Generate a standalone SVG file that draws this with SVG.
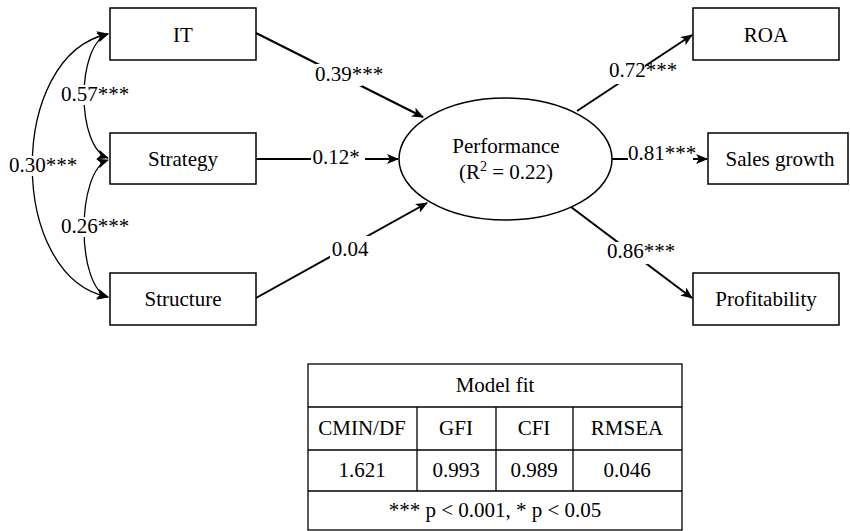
<svg xmlns="http://www.w3.org/2000/svg" width="850" height="531" viewBox="0 0 850 531" font-family="Liberation Serif, Tinos, Times New Roman, DejaVu Serif, serif">
<defs>
<marker id="ah" viewBox="0 0 12 10" refX="11" refY="5" markerWidth="12" markerHeight="10" markerUnits="userSpaceOnUse" orient="auto-start-reverse">
<path d="M0,0 L12,5 L0,10 L3,5 Z" fill="#000"/>
</marker>
<style>
text{font-family:'Liberation Serif',Tinos,'Times New Roman','DejaVu Serif',serif;font-size:21px;fill:#000;text-anchor:middle}
.box{fill:#fff;stroke:#000;stroke-width:1.5}
.p{fill:none;stroke:#000;stroke-width:2}
.c{fill:none;stroke:#000;stroke-width:1.3}
.bg{fill:#fff}
.t{fill:none;stroke:#000;stroke-width:1.3}
</style>
</defs>
<g id="connectors">
<path class="c" d="M108,34 C76,45 76,147 108,158" marker-start="url(#ah)" marker-end="url(#ah)"/>
<path class="c" d="M108,160 C76,171 76,287 108,297" marker-start="url(#ah)" marker-end="url(#ah)"/>
<path class="c" d="M108,34 C7,55 7,277 108,297" marker-start="url(#ah)" marker-end="url(#ah)"/>
<line class="p" x1="256" y1="33" x2="423" y2="117" marker-end="url(#ah)"/>
<line class="p" x1="256" y1="159" x2="398" y2="159" marker-end="url(#ah)"/>
<line class="p" x1="256" y1="298" x2="427" y2="203" marker-end="url(#ah)"/>
<line class="p" x1="577" y1="111" x2="692" y2="35" marker-end="url(#ah)"/>
<line class="p" x1="612" y1="159" x2="707" y2="159" marker-end="url(#ah)"/>
<line class="p" x1="571" y1="207" x2="692" y2="298" marker-end="url(#ah)"/>
<rect class="bg" x="316" y="64" width="46" height="22"/>
<text x="349" y="81">0.39***</text>
<rect class="bg" x="311" y="148" width="54" height="22"/>
<text x="336" y="164">0.12*</text>
<rect class="bg" x="330" y="236" width="40" height="24"/>
<text x="350" y="256">0.04</text>
<rect class="bg" x="61" y="85" width="30" height="20"/>
<text x="95" y="101">0.57***</text>
<rect class="bg" x="8" y="156" width="30" height="20"/>
<text x="43" y="172">0.30***</text>
<rect class="bg" x="61" y="217" width="30" height="20"/>
<text x="95" y="233">0.26***</text>
<rect class="bg" x="609" y="60" width="36" height="24"/>
<text x="643" y="77">0.72***</text>
<rect class="bg" x="628" y="146" width="65" height="20"/>
<text x="662" y="160">0.81***</text>
<rect class="bg" x="607" y="242" width="60" height="22"/>
<text x="641" y="258">0.86***</text>
</g>
<g id="IT"><rect class="box" x="110" y="8" width="146" height="52"/><text x="183" y="42">IT</text></g>
<g id="Strategy"><rect class="box" x="110" y="133" width="146" height="51"/><text x="183" y="166">Strategy</text></g>
<g id="Structure"><rect class="box" x="110" y="273" width="146" height="52"/><text x="183" y="306">Structure</text></g>
<g id="Performance"><ellipse cx="505.5" cy="159" rx="106.5" ry="61" fill="#fff" stroke="#000" stroke-width="1.5"/><text x="506" y="153">Performance</text><text x="506" y="179">(R<tspan dy="-8" font-size="14">2</tspan><tspan dy="8"> = 0.22)</tspan></text></g>
<g id="ROA"><rect class="box" x="693" y="8" width="146" height="52"/><text x="766" y="42">ROA</text></g>
<g id="SalesGrowth"><rect class="box" x="708" y="133" width="140" height="51"/><text x="780" y="166">Sales growth</text></g>
<g id="Profitability"><rect class="box" x="693" y="273" width="146" height="52"/><text x="766" y="306">Profitability</text></g>
<g id="ModelFit">
<rect class="t" x="308" y="364" width="374" height="166"/>
<line class="t" x1="308" y1="407" x2="682" y2="407"/>
<line class="t" x1="308" y1="450" x2="682" y2="450"/>
<line class="t" x1="308" y1="491" x2="682" y2="491"/>
<line class="t" x1="417" y1="407" x2="417" y2="491"/>
<line class="t" x1="496" y1="407" x2="496" y2="491"/>
<line class="t" x1="573" y1="407" x2="573" y2="491"/>
<text x="495" y="392">Model fit</text>
<text x="362" y="435">CMIN/DF</text>
<text x="456" y="435">GFI</text>
<text x="534" y="435">CFI</text>
<text x="627" y="435">RMSEA</text>
<text x="362" y="477">1.621</text>
<text x="456" y="477">0.993</text>
<text x="534" y="477">0.989</text>
<text x="627" y="477">0.046</text>
<text x="495" y="517">*** p &lt; 0.001, * p &lt; 0.05</text>
</g>
</svg>
